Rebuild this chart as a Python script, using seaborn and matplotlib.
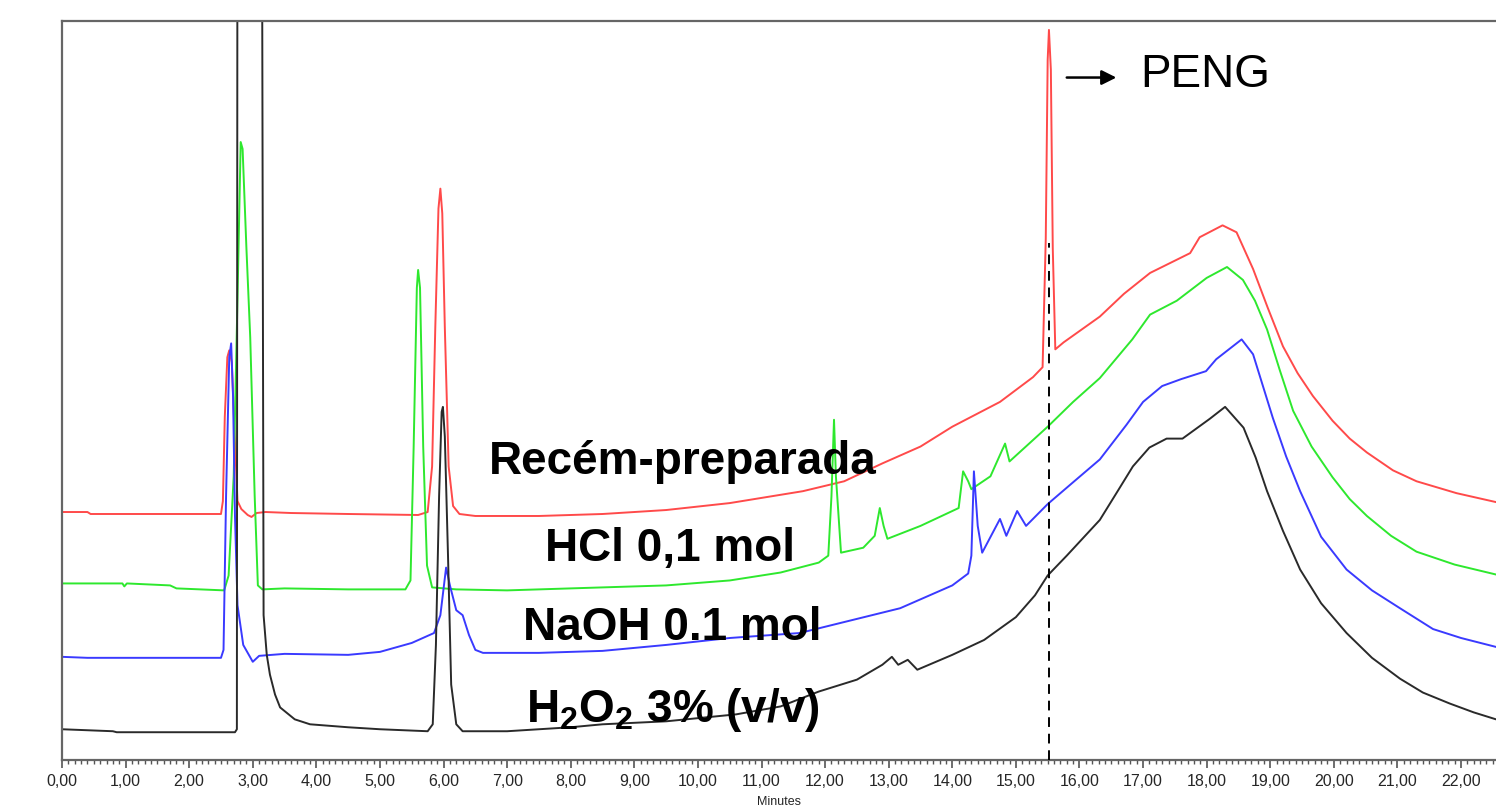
import numpy as np
import pandas as pd
import matplotlib
matplotlib.use("Agg")
import matplotlib.pyplot as plt
from matplotlib.ticker import MultipleLocator, FuncFormatter
import seaborn as sns

# ---------------- data (retention time in minutes, detector signal in arbitrary units) -------------
red_t = [0.00, 0.40, 0.45, 2.50, 2.53, 2.56, 2.60, 2.63, 2.67, 2.71, 2.76, 2.82, 2.92, 2.98, 3.06,
         3.20, 3.60, 4.50, 5.60, 5.75, 5.82, 5.87, 5.92, 5.95, 5.98, 6.02, 6.08, 6.15, 6.25, 6.50,
         7.50, 8.50, 9.50, 10.50, 11.65, 12.30, 12.90, 13.50, 14.00, 14.75, 15.27, 15.42, 15.47,
         15.50, 15.52, 15.55, 15.58, 15.62, 15.75, 16.32, 16.70, 17.11, 17.74, 17.89, 18.25, 18.47,
         18.73, 18.96, 19.20, 19.43, 19.67, 19.98, 20.25, 20.52, 20.93, 21.30, 21.93, 22.55]
red_y = [247, 247, 245, 245, 258, 343, 403, 410, 398, 333, 258, 250, 244, 242, 246,
         247, 246, 245, 244, 247, 293, 433, 553, 573, 548, 433, 293, 253, 245, 243,
         243, 245, 249, 256, 268, 278, 296, 313, 333, 358, 383, 393, 523,
         703, 733, 693, 513, 411, 418, 444, 467, 488, 508, 524, 536, 529,
         492, 453, 414, 387, 364, 339, 321, 307, 289, 278, 266, 257]

green_t = [0.00, 0.95, 0.98, 1.02, 1.70, 1.80, 2.55, 2.62, 2.70, 2.76, 2.81, 2.84, 2.90, 2.96, 3.03,
           3.08, 3.15, 3.50, 4.50, 5.40, 5.48, 5.53, 5.58, 5.60, 5.63, 5.68, 5.74, 5.82, 6.20, 7.00,
           8.00, 9.50, 10.50, 11.30, 11.90, 12.05, 12.10, 12.14, 12.17, 12.25, 12.60, 12.78, 12.86,
           12.92, 12.98, 13.50, 14.10, 14.17, 14.25, 14.30, 14.60, 14.83, 14.90, 15.50, 15.90, 16.32,
           16.83, 17.11, 17.53, 18.00, 18.32, 18.57, 18.76, 18.95, 19.15, 19.36, 19.65, 19.98, 20.25,
           20.52, 20.90, 21.30, 21.90, 22.55]
green_y = [175, 175, 172, 175, 173, 170, 168, 183, 283, 463, 620, 613, 513, 423, 263,
           173, 169, 170, 169, 169, 178, 313, 473, 491, 473, 313, 193, 171, 169, 168,
           170, 173, 178, 186, 196, 203, 263, 340, 283, 206, 211, 223, 251,
           233, 220, 233, 251, 288, 278, 270, 283, 316, 298, 333, 358, 382,
           421, 446, 460, 483, 494, 481, 460, 431, 390, 349, 313, 282, 260,
           243, 223, 207, 194, 184]

blue_t = [0.00, 0.40, 2.50, 2.54, 2.58, 2.63, 2.66, 2.69, 2.72, 2.76, 2.85, 3.00, 3.10, 3.50, 4.50,
          5.00, 5.50, 5.85, 5.95, 6.04, 6.10, 6.20, 6.30, 6.40, 6.50, 6.62, 7.50, 8.50, 9.50, 10.50,
          11.60, 13.18, 14.00, 14.25, 14.30, 14.34, 14.40, 14.47, 14.75, 14.85, 15.02, 15.16, 15.50,
          15.90, 16.32, 16.74, 17.00, 17.30, 17.60, 17.99, 18.15, 18.55, 18.73, 18.88, 19.04, 19.25,
          19.47, 19.80, 20.20, 20.60, 21.04, 21.56, 22.00, 22.55]
blue_y = [101, 100, 100, 108, 263, 403, 417, 363, 243, 153, 113, 96, 102, 104, 103,
          106, 115, 125, 143, 191, 173, 148, 143, 123, 108, 105, 105, 107, 113, 120,
          125, 150, 173, 185, 203, 288, 233, 206, 240, 223, 248, 233, 255,
          277, 300, 335, 358, 374, 381, 389, 401, 421, 406, 375, 342, 303,
          268, 222, 189, 168, 150, 129, 120, 111]

black_t = [0.00, 0.80, 0.86, 2.72, 2.75, 2.76, 3.14, 3.17, 3.22, 3.27, 3.35, 3.43, 3.66, 3.90, 4.50,
           5.00, 5.75, 5.83, 5.88, 5.93, 5.97, 5.99, 6.02, 6.07, 6.12, 6.20, 6.30, 7.00, 8.00, 8.50,
           9.50, 10.60, 11.30, 11.90, 12.50, 12.90, 13.05, 13.15, 13.30, 13.45, 14.00, 14.50, 15.00,
           15.30, 15.50, 15.80, 16.32, 16.60, 16.84, 17.10, 17.37, 17.62, 18.05, 18.29, 18.58, 18.77,
           18.95, 19.20, 19.47, 19.80, 20.20, 20.60, 21.04, 21.40, 21.82, 22.20, 22.55]
black_y = [28, 26, 25, 25, 28, 1000, 1000, 143, 103, 83, 63, 50, 38, 33, 30,
           28, 26, 33, 113, 263, 348, 353, 323, 203, 73, 33, 26, 26, 30, 33,
           36, 43, 51, 66, 78, 93, 101, 93, 98, 88, 103, 118, 141,
           163, 183, 203, 239, 268, 293, 312, 321, 321, 341, 353, 332, 302,
           268, 228, 189, 155, 125, 100, 79, 65, 54, 45, 38]

series_names = ["Recém-preparada", "HCl 0,1 mol", "NaOH 0.1 mol", "H$_2$O$_2$ 3% (v/v)"]
series_colors = ["#ff4a4a", "#2ee82e", "#3a3aff", "#2a2a2a"]
peng_time = 15.52
peng_label = "PENG"
x_label = "Minutes"

# ---------------- build table ----------------
frames = []
for name, t, y in zip(series_names,
                      [red_t, green_t, blue_t, black_t],
                      [red_y, green_y, blue_y, black_y]):
    frames.append(pd.DataFrame({"Minutes": t, "Signal": y, "Amostra": name}))
df = pd.concat(frames, ignore_index=True)

# ---------------- figure ----------------
sns.set_style("white")
plt.rcParams["font.family"] = ["Liberation Sans", "DejaVu Sans"]
plt.rcParams["mathtext.fontset"] = "custom"
plt.rcParams["mathtext.rm"] = "Liberation Sans:bold"
plt.rcParams["mathtext.it"] = "Liberation Sans:bold"
plt.rcParams["mathtext.bf"] = "Liberation Sans:bold"
plt.rcParams["mathtext.default"] = "rm"

fig = plt.figure(figsize=(14.96, 8.08), dpi=100)
ax = fig.add_axes([62 / 1496, 48 / 808, 1434 / 1496, 739 / 808])

sns.lineplot(data=df, x="Minutes", y="Signal", hue="Amostra",
             palette=dict(zip(series_names, series_colors)),
             estimator=None, sort=False, linewidth=1.4, legend=False, ax=ax)

ax.set_xlim(0, 22.55)
ax.set_ylim(-3, 742)

# dashed marker for PENG retention time
ax.plot([peng_time, peng_time], [-3, 518], color="black", lw=1.4,
        linestyle=(0, (5, 3.5)), zorder=6)

# series labels
label_pos = [(9.76, 285), (9.56, 198), (9.59, 118), (9.60, 35)]
for name, (tx, ty) in zip(series_names, label_pos):
    ax.text(tx, ty, name, ha="center", va="baseline", fontsize=33,
            fontweight="bold", color="black", zorder=7)

# PENG annotation
ax.annotate("", xy=(16.58, 685), xytext=(15.80, 685),
            arrowprops=dict(arrowstyle="-|>", color="black", lw=1.8,
                            mutation_scale=22, shrinkA=0, shrinkB=0), zorder=7)
ax.text(16.95, 675, peng_label, ha="left", va="baseline", fontsize=33,
        color="black", zorder=7)

# axes styling
ax.set_yticks([])
ax.set_ylabel("")
ax.xaxis.set_major_locator(MultipleLocator(1))
ax.xaxis.set_minor_locator(MultipleLocator(0.1))
ax.xaxis.set_major_formatter(FuncFormatter(lambda v, p: f"{v:.2f}".replace(".", ",")))
ax.tick_params(axis="x", which="major", direction="out", length=6, width=1.2,
               color="#555555", labelsize=11.5, pad=4, bottom=True)
ax.tick_params(axis="x", which="minor", direction="out", length=3, width=1.0,
               color="#555555", bottom=True)
ax.set_xlabel(x_label, fontsize=9, labelpad=5)

for side in ["left", "top", "bottom"]:
    ax.spines[side].set_visible(True)
    ax.spines[side].set_color("#666666")
    ax.spines[side].set_linewidth(1.6)
ax.spines["right"].set_visible(False)

fig.savefig("out.png", dpi=100)
